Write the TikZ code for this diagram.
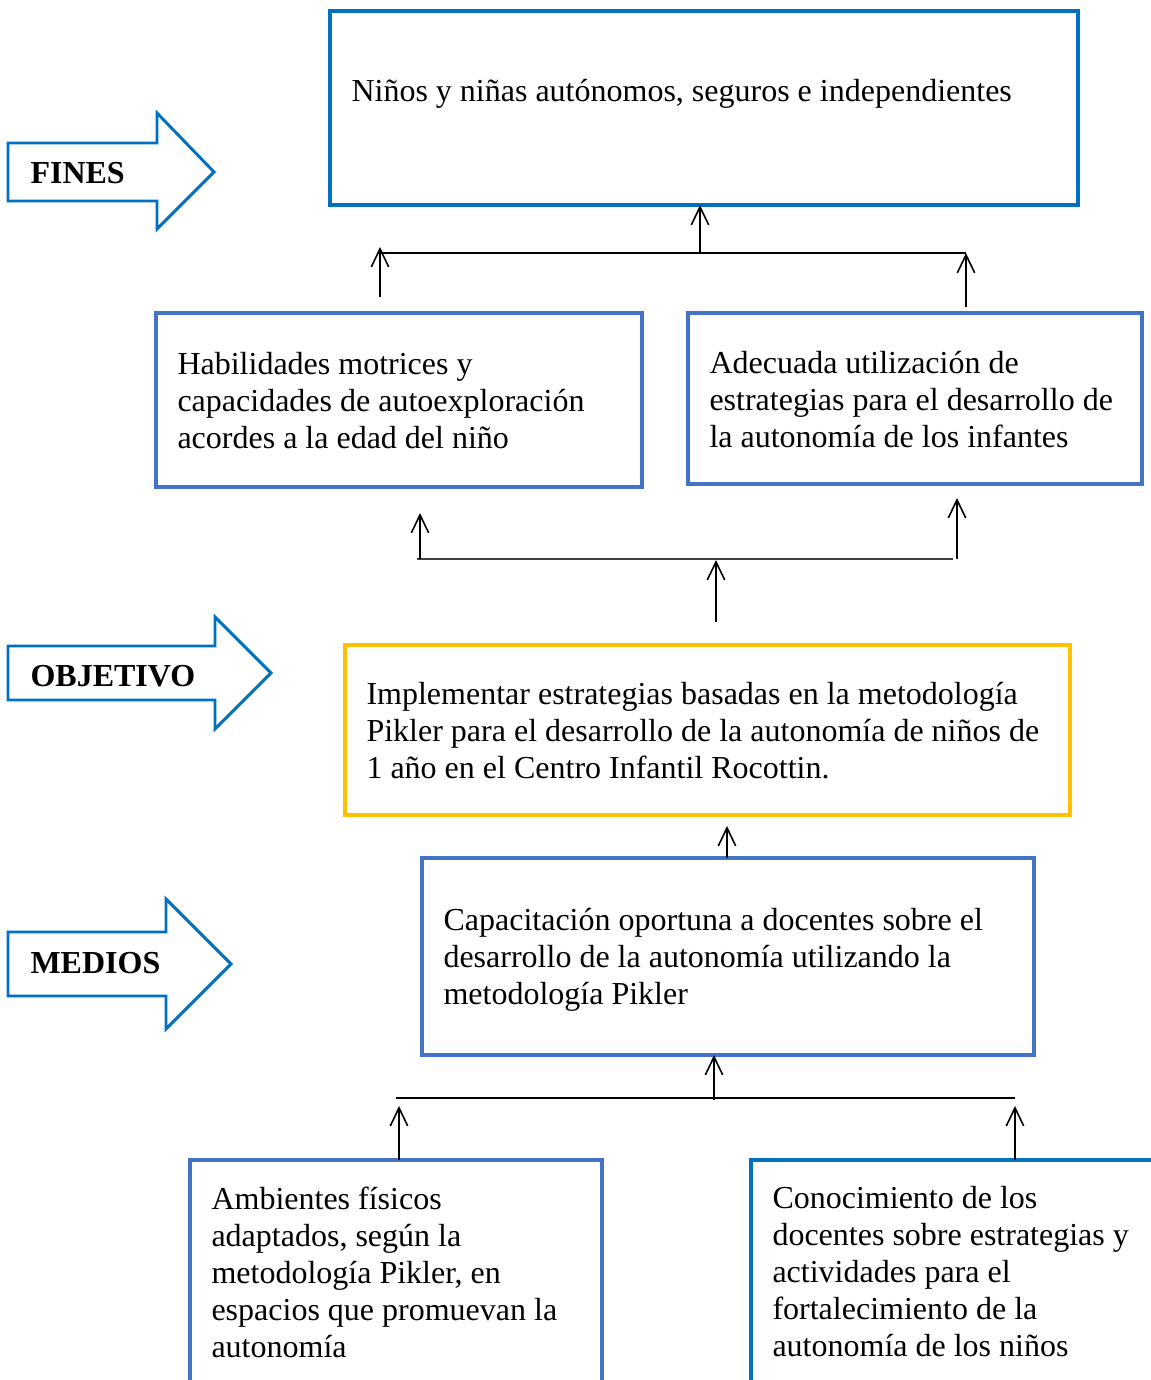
\documentclass[tikz,border=0pt]{standalone}
\usepackage{fontspec}
\setmainfont{Liberation Serif}
\usetikzlibrary{arrows.meta,positioning}
\definecolor{azul}{RGB}{0,112,192}
\definecolor{azulclaro}{RGB}{68,114,196}
\definecolor{oro}{RGB}{255,192,0}
\tikzset{
  caja/.style={draw=azulclaro, line width=1.3pt, inner sep=0pt, outer sep=0pt, anchor=north west},
  texto/.style={anchor=north west, inner sep=0pt, align=left,
    font=\fontsize{12}{13.875}\selectfont, execute at begin node=\strut},
  etiq/.style={anchor=base west, inner sep=0pt, font=\fontsize{12}{13.875}\selectfont\bfseries},
  flecha/.style={-{Straight Barb[length=6.75pt,width=6.5pt]}, line width=0.6pt},
  barra/.style={line width=0.6pt},
  grande/.style={draw=azul, line width=1.1pt, line join=miter},
}

\begin{document}
\begin{tikzpicture}[x=0.375pt,y=-0.375pt]
	\path[use as bounding box, clip] (0,0) rectangle (1151,1380);

	% flechas grandes
	\draw[grande] (8,143) -- (157,143) -- (157,113) -- (214,172) -- (157,229) -- (157,201) -- (8,201) -- cycle;
	\draw[grande] (8,646) -- (215,646) -- (215,617) -- (271,673) -- (215,729) -- (215,700) -- (8,700) -- cycle;
	\draw[grande] (8,932) -- (166,932) -- (166,899) -- (231,964) -- (166,1029) -- (166,996) -- (8,996) -- cycle;
	\node[etiq] (fines) at (30,183) {FINES};
	\node[etiq] (objetivo) at (30,686) {OBJETIVO};
	\node[etiq] (medios) at (30,973) {MEDIOS};

	% cajas
	\node[caja, draw=azul, minimum width=748*0.375pt, minimum height=194*0.375pt] (fin) at (330,11) {};
	\node[caja, minimum width=486*0.375pt, minimum height=174*0.375pt] (hab) at (156,313) {};
	\node[caja, minimum width=454*0.375pt, minimum height=171*0.375pt] (ade) at (688,313) {};
	\node[caja, draw=oro, minimum width=725*0.375pt, minimum height=170*0.375pt] (obj) at (345,645) {};
	\node[caja, minimum width=612*0.375pt, minimum height=197*0.375pt] (cap) at (422,858) {};
	\node[caja, minimum width=412*0.375pt, minimum height=260*0.375pt] (amb) at (190,1160) {};
	\node[caja, draw=azul, minimum width=450*0.375pt, minimum height=260*0.375pt] (con) at (751,1160) {};

	\node[texto] (tfin) at ([shift={(21,64)}]fin.north west) {Niños y niñas autónomos, seguros e independientes};
	\node[texto] (thab) at ([shift={(21,39)}]hab.north west) {Habilidades motrices y\\capacidades de autoexploración\\acordes a la edad del niño};
	\node[texto] (tade) at ([shift={(21,38)}]ade.north west) {Adecuada utilización de\\estrategias para el desarrollo de\\la autonomía de los infantes};
	\node[texto] (tobj) at ([shift={(21,37)}]obj.north west) {Implementar estrategias basadas en la metodología\\Pikler para el desarrollo de la autonomía de niños de\\1 año en el Centro Infantil Rocottin.};
	\node[texto] (tcap) at ([shift={(21,50)}]cap.north west) {Capacitación oportuna a docentes sobre el\\desarrollo de la autonomía utilizando la\\metodología Pikler};
	\node[texto] (tamb) at ([shift={(21,26)}]amb.north west) {Ambientes físicos\\adaptados, según la\\metodología Pikler, en\\espacios que promuevan la\\autonomía};
	\node[texto] (tcon) at ([shift={(21,26)}]con.north west) {Conocimiento de los\\docentes sobre estrategias y\\actividades para el\\fortalecimiento de la\\autonomía de los niños};

	% fines
	\coordinate (fm) at (700,253);
	\coordinate (fi) at (380,253);
	\coordinate (fd) at (966,253);
	\coordinate (habup) at (380,297);
	\coordinate (habtip) at (380,247);
	\coordinate (adeup) at (966,307);
	\draw[barra] (fi) -- (fd);
	\draw[flecha] (fm) -- (fm |- fin.south);
	\draw[flecha] (habup) -- (habtip);
	\draw[flecha] (adeup) -- (fd);

	% objetivo
	\coordinate (oi) at (417,559);
	\coordinate (od) at (953,559);
	\coordinate (habtip2) at (420,513);
	\coordinate (adetip) at (957,498);
	\coordinate (objup) at (716,622);
	\draw[line width=0.9pt, black!75] (oi) -- (od);
	\draw[flecha] (420,559) -- (habtip2);
	\draw[flecha] (957,559) -- (adetip);
	\draw[flecha] (objup) -- (716,560);

	% medios
	\coordinate (captip) at (727,826);
	\draw[flecha] (captip |- cap.north) -- (captip);
	\coordinate (mm) at (714,1100);
	\coordinate (mi) at (396,1098);
	\coordinate (md) at (1015,1098);
	\draw[flecha] (mm) -- (mm |- cap.south);
	\draw[barra] (mi) -- (md);
	\draw[flecha] (399,1160) -- (399,1106);
	\draw[flecha] (1015,1160) -- (1015,1106);
\end{tikzpicture}
\end{document}
